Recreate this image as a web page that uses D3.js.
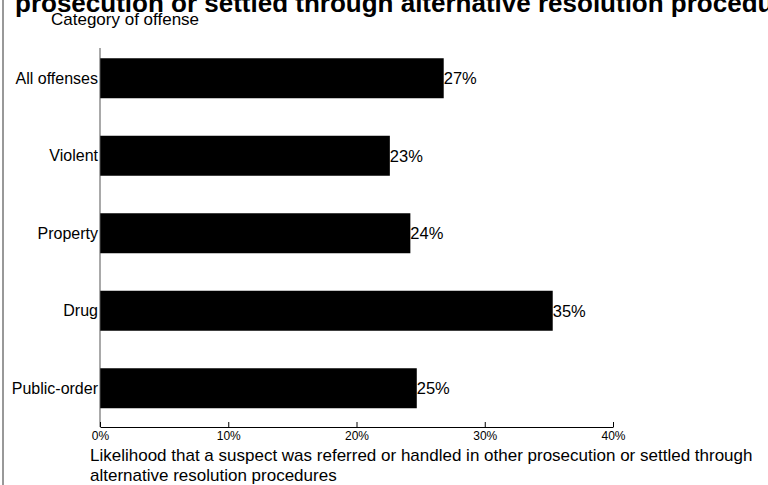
<!DOCTYPE html>
<html>
<head>
<meta charset="utf-8">
<script src="https://cdn.jsdelivr.net/npm/d3@7"></script>
<style>
  body { margin: 0; background: #fff; }
  svg { display: block; font-family: "Liberation Sans", Arial, sans-serif; }
</style>
</head>
<body>
<svg id="chart" width="768" height="485"></svg>
<script>
const categories = ['All offenses', 'Violent', 'Property', 'Drug', 'Public-order']
const values = [0.268, 0.226, 0.242, 0.353, 0.247]
const labels = ['27%', '23%', '24%', '35%', '25%']
const xTicks = [0, 0.1, 0.2, 0.3, 0.4]

const svg = d3.select('#chart')

const x = d3.scaleLinear().domain([0, 0.4]).range([100, 613])
const y = d3.scaleBand().domain(categories).range([39.5, 427])
   .paddingInner(0.484)
   .paddingOuter(0.242)

// left frame line
svg.append('line')
   .attr('x1', 3).attr('x2', 3)
   .attr('y1', 0).attr('y2', 485)
   .attr('stroke', '#333')

// title (second line, top cut off)
svg.append('text')
   .attr('x', 15)
   .attr('y', 12)
   .style('font-size', '26px')
   .style('font-weight', 'bold')
   .text('prosecution or settled through alternative resolution procedures')

svg.append('text')
   .attr('x', 51)
   .attr('y', 25)
   .style('font-size', '17px')
   .text('Category of offense')

let bars = svg.selectAll('g.bar')
   .data(categories)
   .enter()
   .append('g')
   .attr('class', 'bar')

bars.append('rect')
   .attr('x', x(0))
   .attr('y', d => y(d))
   .attr('height', y.bandwidth())
   .attr('width', (d, i) => x(values[i]) - x(0))
   .attr('fill', '#000')

bars.append('text')
   .attr('x', (d, i) => x(values[i]))
   .attr('y', d => y(d) + y.bandwidth() / 2)
   .attr('dy', '0.35em')
   .style('font-size', '16.5px')
   .text((d, i) => labels[i])

bars.append('text')
   .attr('x', 98)
   .attr('y', d => y(d) + y.bandwidth() / 2)
   .attr('dy', '0.35em')
   .style('text-anchor', 'end')
   .style('font-size', '16px')
   .text(d => d)

// y axis line
svg.append('line')
   .attr('x1', 100).attr('x2', 100)
   .attr('y1', 48).attr('y2', 427)
   .attr('stroke', '#555')

// x axis
let xAxis = svg.append('g')
   .attr('transform', 'translate(0,427)')
   .call(d3.axisBottom(x)
      .tickValues(xTicks)
      .tickFormat(d3.format('.0%'))
      .tickSizeInner(-5)
      .tickSizeOuter(0)
      .tickPadding(4))

xAxis.selectAll('text')
   .style('font-size', '12px')
   .style('font-family', '"Liberation Sans", Arial, sans-serif')
   .attr('fill', '#000')
xAxis.selectAll('line, path').attr('stroke', '#000')

svg.append('text')
   .attr('x', 90)
   .attr('y', 461)
   .style('font-size', '17px')
   .text('Likelihood that a suspect was referred or handled in other prosecution or settled through')

svg.append('text')
   .attr('x', 90)
   .attr('y', 481)
   .style('font-size', '17px')
   .text('alternative resolution procedures')
</script>
</body>
</html>
